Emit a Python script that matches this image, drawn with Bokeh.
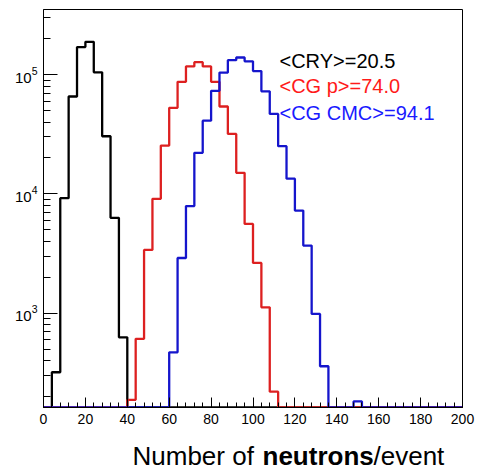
import numpy as np
from bokeh.plotting import figure
from bokeh.layouts import column
from bokeh.models import Range1d, SingleIntervalTicker, Label
from bokeh.core.properties import value
from bokeh.embed import file_html
from bokeh.resources import INLINE

# bin edges (width 4, 0..200)
bin_edges = list(range(0, 204, 4))

# counts per bin
cry_counts = [0, 320, 9200, 65500, 170000, 188000, 104500, 30400, 6300, 628] + [0] * 40
cgp_counts = [0] * 10 + [188, 610, 3390, 9080, 25400, 52600, 87000, 117000, 127000, 117000,
                         87000, 54000, 31800, 15000, 5600, 2640, 1120, 220] + [0] * 22
cmc_counts = [0] * 15 + [470, 2900, 7900, 22100, 41100, 73000, 104000, 132000, 139000, 129000,
                         107000, 72400, 46800, 25100, 13400, 7240, 3690, 986, 359, 0,
                         0, 0, 182] + [0] * 12

legend_texts = ["<CRY>=20.5", "<CG p>=74.0", "<CG CMC>=94.1"]
line_colors = ["black", "#dd2020", "#1515cc"]
text_colors = ["black", "#ff1a1a", "#1a1aff"]
title_parts = ["Number of", "neutrons", "/event"]
title_styles = ["normal", "bold", "normal"]

YMIN, YMAX = 162, 351000
FONT = "Liberation Sans"
BL, BR = 43, 15   # left / right borders (shared by both stacked figures)

p = figure(width=477, height=435, x_range=Range1d(0, 200), y_range=Range1d(YMIN, YMAX),
           y_axis_type="log", output_backend="svg", toolbar_location=None,
           min_border_left=BL, min_border_right=BR, min_border_top=9, min_border_bottom=28)
p.background_fill_color = "white"
p.border_fill_color = "white"
p.outline_line_color = "black"
p.outline_line_width = 1
p.xgrid.visible = False
p.ygrid.visible = False

for counts, col in zip([cry_counts, cgp_counts, cmc_counts], line_colors):
    y = np.maximum(np.array(counts + [counts[-1]], dtype=float), YMIN)
    p.step(x=bin_edges, y=y, mode="after", line_color=col, line_width=2.3)

p.xaxis.ticker = SingleIntervalTicker(interval=20, num_minor_ticks=5)
for ax in (p.xaxis[0], p.yaxis[0]):
    ax.axis_line_color = "black"
    ax.major_tick_line_color = "black"
    ax.minor_tick_line_color = "black"
    ax.major_tick_out = 0
    ax.minor_tick_out = 0
    ax.major_label_text_font = FONT
    ax.major_label_text_color = "black"
p.xaxis.major_label_text_font_size = "14px"
p.yaxis.major_label_text_font_size = "15px"
p.xaxis.major_tick_in = 10
p.xaxis.minor_tick_in = 5
p.xaxis.major_label_standoff = 6
p.yaxis.major_tick_in = 14
p.yaxis.minor_tick_in = 7
p.yaxis.major_label_standoff = 6

# legend texts (screen units relative to frame, y up from frame bottom)
for i, (t, c) in enumerate(zip(legend_texts, text_colors)):
    p.add_layout(Label(x=236, y=[347, 322, 295][i], x_units="screen", y_units="screen",
                       text=t, text_color=c, text_font=FONT, text_font_size="20px",
                       text_baseline="alphabetic"))

# x-axis title strip (separate figure; its frame is aligned with the main frame,
# so its x range is expressed in page pixels of that frame)
t = figure(width=477, height=37, x_range=Range1d(BL, 477 - BR), y_range=Range1d(0, 37),
           x_axis_location=None, y_axis_location=None,
           output_backend="svg", toolbar_location=None,
           min_border_left=BL, min_border_right=BR, min_border_top=0, min_border_bottom=0)
t.grid.visible = False
t.outline_line_color = None
t.background_fill_color = "white"
t.border_fill_color = "white"

fs = "26px"
start_x = [132, 262, 373]
for txt, st, sx in zip(title_parts, title_styles, start_x):
    t.text(x=[sx], y=[17], text=[txt], text_font=value(FONT), text_font_size=fs,
           text_font_style=st, text_align="left", text_baseline="middle", text_color="black")

open("out.html", "w").write(file_html(column(p, t, spacing=0), INLINE))
